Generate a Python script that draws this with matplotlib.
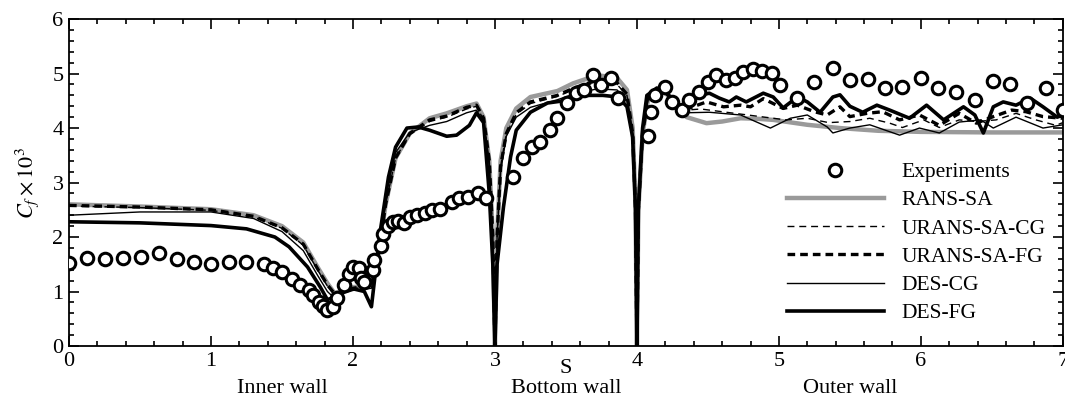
import matplotlib
matplotlib.use("Agg")
import matplotlib.pyplot as plt
import numpy as np

plt.rcParams["font.family"] = ["Liberation Serif", "DejaVu Serif"]
plt.rcParams["mathtext.fontset"] = "stix"

# experiments
exp_s = [0.0, 0.127, 0.254, 0.38, 0.507, 0.634, 0.76, 0.88, 1.0, 1.127,
         1.25, 1.375, 1.44, 1.50, 1.57, 1.63, 1.69, 1.72, 1.76, 1.79,
         1.82, 1.86, 1.89, 1.94, 1.97, 2.0, 2.04, 2.06, 2.08, 2.14,
         2.15, 2.20, 2.21, 2.25, 2.28, 2.32, 2.36, 2.40, 2.45, 2.51,
         2.56, 2.61, 2.70, 2.75, 2.81, 2.88, 2.94,
         3.13, 3.20, 3.26, 3.32, 3.39, 3.44, 3.51, 3.57, 3.63, 3.69,
         3.75, 3.82, 3.87, 4.08, 4.10, 4.13,
         4.20, 4.25, 4.32, 4.37, 4.44, 4.50, 4.56, 4.63, 4.69, 4.75,
         4.82, 4.88, 4.95, 5.01, 5.13, 5.25, 5.38, 5.50, 5.63, 5.75,
         5.87, 6.00, 6.12, 6.25, 6.38, 6.51, 6.63, 6.75, 6.88, 7.00]
exp_cf = [1.52, 1.61, 1.60, 1.61, 1.63, 1.70, 1.60, 1.54, 1.50, 1.54,
          1.55, 1.50, 1.43, 1.36, 1.23, 1.12, 1.03, 0.94, 0.81, 0.73,
          0.66, 0.72, 0.88, 1.12, 1.32, 1.45, 1.43, 1.25, 1.18, 1.39,
          1.58, 1.84, 2.05, 2.20, 2.27, 2.30, 2.25, 2.36, 2.40, 2.45,
          2.50, 2.52, 2.64, 2.71, 2.74, 2.80, 2.72,
          3.10, 3.45, 3.65, 3.74, 3.96, 4.18, 4.46, 4.64, 4.70, 4.97,
          4.79, 4.92, 4.55, 3.85, 4.29, 4.60,
          4.75, 4.48, 4.33, 4.51, 4.66, 4.84, 4.97, 4.88, 4.92, 5.03,
          5.08, 5.05, 5.01, 4.79, 4.55, 4.84, 5.10, 4.88, 4.90, 4.73,
          4.75, 4.92, 4.73, 4.66, 4.51, 4.86, 4.81, 4.46, 4.73, 4.33]

# RANS-SA
rans_s = [0, 0.5, 1.0, 1.3, 1.5, 1.65, 1.75, 1.82, 1.87, 1.92, 2.0, 2.08, 2.13,
          2.18, 2.23, 2.3, 2.4, 2.54, 2.66, 2.8, 2.87, 2.92, 2.96, 2.985, 3.0,
          3.015, 3.04, 3.08, 3.15, 3.25, 3.44, 3.55, 3.72, 3.86, 3.93, 3.97, 3.99, 4.0,
          4.01, 4.04, 4.08, 4.14, 4.21, 4.28, 4.35, 4.49, 4.6, 4.73, 4.85, 4.96,
          5.2, 5.43, 5.7, 6.0, 6.5, 7.0]
rans_cf = [2.60, 2.56, 2.51, 2.40, 2.20, 1.90, 1.45, 1.15, 0.97, 1.00, 1.08, 1.10, 1.12,
           1.7, 2.6, 3.45, 3.9, 4.18, 4.27, 4.40, 4.45, 4.2, 3.4, 2.0, 0.0,
           2.0, 3.4, 4.0, 4.36, 4.57, 4.68, 4.82, 4.97, 4.92, 4.7, 4.0, 2.6, 0.0,
           2.5, 3.9, 4.55, 4.73, 4.62, 4.4, 4.2, 4.09, 4.12, 4.18, 4.17, 4.15,
           4.06, 4.0, 3.95, 3.93, 3.92, 3.92]

# URANS-SA coarse grid
ucg_s = [0, 0.5, 1.0, 1.3, 1.5, 1.65, 1.75, 1.82, 1.87, 1.92, 2.0, 2.08, 2.13,
         2.18, 2.23, 2.3, 2.4, 2.54, 2.66, 2.8, 2.87, 2.92, 2.96, 2.985, 3.0,
         3.015, 3.04, 3.08, 3.15, 3.25, 3.44, 3.55, 3.72, 3.86, 3.93, 3.97, 3.99, 4.0,
         4.01, 4.04, 4.08, 4.14, 4.21, 4.28, 4.35, 4.45, 4.6, 4.75,
         4.9, 5.05, 5.2, 5.35, 5.5, 5.64, 5.78, 5.87, 6.02, 6.13,
         6.27, 6.39, 6.53, 6.67, 6.81, 6.95, 7.0]
ucg_cf = [2.57, 2.54, 2.49, 2.37, 2.16, 1.85, 1.40, 1.10, 0.95, 0.98, 1.05, 1.08, 1.10,
          1.7, 2.6, 3.45, 3.88, 4.12, 4.2, 4.35, 4.4, 4.15, 3.4, 2.0, 0.0,
          2.0, 3.3, 3.9, 4.25, 4.45, 4.58, 4.7, 4.85, 4.8, 4.6, 3.9, 2.5, 0.0,
          2.5, 3.9, 4.55, 4.72, 4.62, 4.42, 4.33, 4.35, 4.3, 4.25,
          4.2, 4.15, 4.18, 4.1, 4.12, 4.18, 4.09, 4.01, 4.15, 4.01,
          4.15, 4.12, 4.15, 4.27, 4.15, 4.05, 4.1]

# URANS-SA fine grid
ufg_s = [0, 0.5, 1.0, 1.3, 1.5, 1.65, 1.75, 1.82, 1.87, 1.92, 2.0, 2.08, 2.13,
         2.18, 2.23, 2.3, 2.4, 2.54, 2.66, 2.8, 2.87, 2.92, 2.96, 2.985, 3.0,
         3.015, 3.04, 3.08, 3.15, 3.25, 3.44, 3.55, 3.72, 3.86, 3.93, 3.97, 3.99, 4.0,
         4.01, 4.04, 4.08, 4.14, 4.21, 4.28, 4.35, 4.49, 4.61, 4.73,
         4.8, 4.89, 5.03, 5.13, 5.25, 5.34, 5.43, 5.5, 5.62, 5.73,
         5.85, 5.99, 6.13, 6.27, 6.39, 6.51, 6.64, 6.74, 6.86, 7.0]
ufg_cf = [2.58, 2.55, 2.50, 2.38, 2.17, 1.87, 1.42, 1.12, 0.96, 0.99, 1.06, 1.09, 1.11,
          1.7, 2.6, 3.45, 3.9, 4.15, 4.22, 4.38, 4.42, 4.18, 3.4, 2.0, 0.0,
          2.0, 3.3, 3.9, 4.28, 4.48, 4.6, 4.73, 4.88, 4.83, 4.62, 3.9, 2.5, 0.0,
          2.5, 3.9, 4.58, 4.73, 4.63, 4.44, 4.35, 4.48, 4.39, 4.42,
          4.39, 4.54, 4.36, 4.42, 4.3, 4.24, 4.39, 4.21, 4.27, 4.3,
          4.15, 4.24, 4.05, 4.27, 4.09, 4.21, 4.33, 4.3, 4.21, 4.18]

# DES coarse grid
dcg_s = [0, 0.5, 1.0, 1.3, 1.5, 1.65, 1.75, 1.82, 1.86, 1.92, 2.0, 2.08, 2.13,
         2.18, 2.23, 2.3, 2.4, 2.54, 2.66, 2.8, 2.87, 2.92, 2.96, 2.985, 3.0,
         3.015, 3.04, 3.08, 3.15, 3.25, 3.44, 3.55, 3.72, 3.86, 3.93, 3.97, 3.99, 4.0,
         4.01, 4.04, 4.08, 4.14, 4.21, 4.28, 4.33, 4.51, 4.73, 4.94,
         5.08, 5.2, 5.34, 5.38, 5.5, 5.64, 5.85, 5.99, 6.13, 6.27,
         6.42, 6.51, 6.67, 6.86, 7.0]
dcg_cf = [2.40, 2.46, 2.46, 2.34, 2.10, 1.75, 1.30, 1.00, 0.90, 0.95, 1.02, 1.04, 1.06,
          1.8, 2.8, 3.55, 3.92, 4.05, 4.12, 4.28, 4.33, 4.1, 3.3, 2.0, 0.0,
          2.0, 3.2, 3.85, 4.2, 4.38, 4.52, 4.62, 4.72, 4.7, 4.5, 3.85, 2.5, 0.0,
          2.5, 3.9, 4.55, 4.72, 4.62, 4.42, 4.28, 4.29, 4.24, 4.0,
          4.18, 4.24, 4.02, 3.91, 4.0, 4.06, 3.87, 4.0, 3.91, 4.11,
          4.15, 4.0, 4.2, 4.0, 4.06]

# DES fine grid
dfg_s = [0, 0.5, 1.0, 1.25, 1.45, 1.55, 1.68, 1.77, 1.82, 1.87, 1.93, 2.0, 2.08, 2.13,
         2.19, 2.25, 2.3, 2.38, 2.46, 2.54, 2.66, 2.73, 2.82, 2.87, 2.92, 2.96, 2.985, 3.0,
         3.015, 3.06, 3.11, 3.15, 3.25, 3.37, 3.51, 3.62, 3.76, 3.87, 3.93, 3.97, 3.99, 4.0,
         4.01, 4.04, 4.07, 4.14, 4.21, 4.28, 4.33, 4.39, 4.51, 4.58,
         4.65, 4.70, 4.77, 4.89, 4.96, 5.03, 5.13, 5.2, 5.29, 5.38,
         5.43, 5.5, 5.59, 5.69, 5.78, 5.92, 6.04, 6.16, 6.3, 6.38,
         6.44, 6.51, 6.58, 6.67, 6.77, 6.86, 6.96, 7.0]
dfg_cf = [2.28, 2.26, 2.21, 2.15, 2.0, 1.82, 1.45, 1.08, 0.85, 0.9, 1.0, 1.05, 1.0, 0.72,
          2.07, 3.1, 3.65, 4.0, 4.02, 3.96, 3.85, 3.87, 4.05, 4.28, 4.1, 2.8, 1.5, 0.0,
          1.5, 2.55, 3.47, 3.96, 4.29, 4.46, 4.51, 4.6, 4.6, 4.57, 4.39, 3.83, 2.5, 0.0,
          2.5, 4.0, 4.6, 4.73, 4.64, 4.46, 4.37, 4.57, 4.64, 4.55,
          4.48, 4.57, 4.48, 4.64, 4.57, 4.37, 4.57, 4.48, 4.29, 4.57,
          4.61, 4.4, 4.29, 4.42, 4.33, 4.18, 4.42, 4.15, 4.39, 4.24,
          3.91, 4.39, 4.48, 4.42, 4.55, 4.39, 4.2, 4.24]

wall_names = ["Inner wall", "Bottom wall", "Outer wall"]
wall_pos = [1.5, 3.5, 5.5]

fig = plt.figure(figsize=(10.65, 3.98), dpi=100)
ax = fig.add_axes([0.0648, 0.1307, 0.9332, 0.8213])

ax.plot(rans_s, rans_cf, color="#9a9a9a", lw=3.2, label="RANS-SA")
ax.plot(ucg_s, ucg_cf, color="black", lw=1.0, ls=(0, (5, 3.5)), label="URANS-SA-CG")
ax.plot(ufg_s, ufg_cf, color="black", lw=2.4, ls=(0, (2.3, 1.5)), label="URANS-SA-FG")
ax.plot(dcg_s, dcg_cf, color="black", lw=1.0, label="DES-CG")
ax.plot(dfg_s, dfg_cf, color="black", lw=2.6, label="DES-FG")
ax.plot(exp_s, exp_cf, ls="none", marker="o", ms=9, mfc="white", mec="black",
        mew=2.2, label="Experiments", zorder=5)

ax.set_xlim(0, 7)
ax.set_ylim(0, 6)
ax.set_xticks(np.arange(0, 8, 1))
ax.set_yticks(np.arange(0, 7, 1))
ax.set_xticks(np.arange(0, 7.01, 0.2), minor=True)
ax.set_yticks(np.arange(0, 6.01, 0.2), minor=True)
ax.tick_params(which="both", direction="in", top=True, right=True, labelsize=16, width=1.2)
ax.tick_params(which="major", length=7, pad=4)
ax.tick_params(which="minor", length=3.5)
for sp in ax.spines.values():
    sp.set_linewidth(1.3)

ax.set_ylabel(r"$C_f \times 10^3$", fontsize=16, labelpad=8)
ax.text(3.5, -0.068, "S", transform=ax.get_xaxis_transform(), ha="center", va="center", fontsize=16)
for name, pos in zip(wall_names, wall_pos):
    ax.text(pos, -0.13, name, transform=ax.get_xaxis_transform(), ha="center", va="center", fontsize=16)

h, l = ax.get_legend_handles_labels()
order = [5, 0, 1, 2, 3, 4]
ax.legend([h[i] for i in order], [l[i] for i in order], loc="upper left",
          bbox_to_anchor=(787 / 1065, 1 - 162 / 398), bbox_transform=fig.transFigure,
          frameon=False, fontsize=15.5, handlelength=4.5, handletextpad=0.8,
          labelspacing=0.38, borderpad=0, borderaxespad=0)

fig.savefig("out.png", dpi=100)
